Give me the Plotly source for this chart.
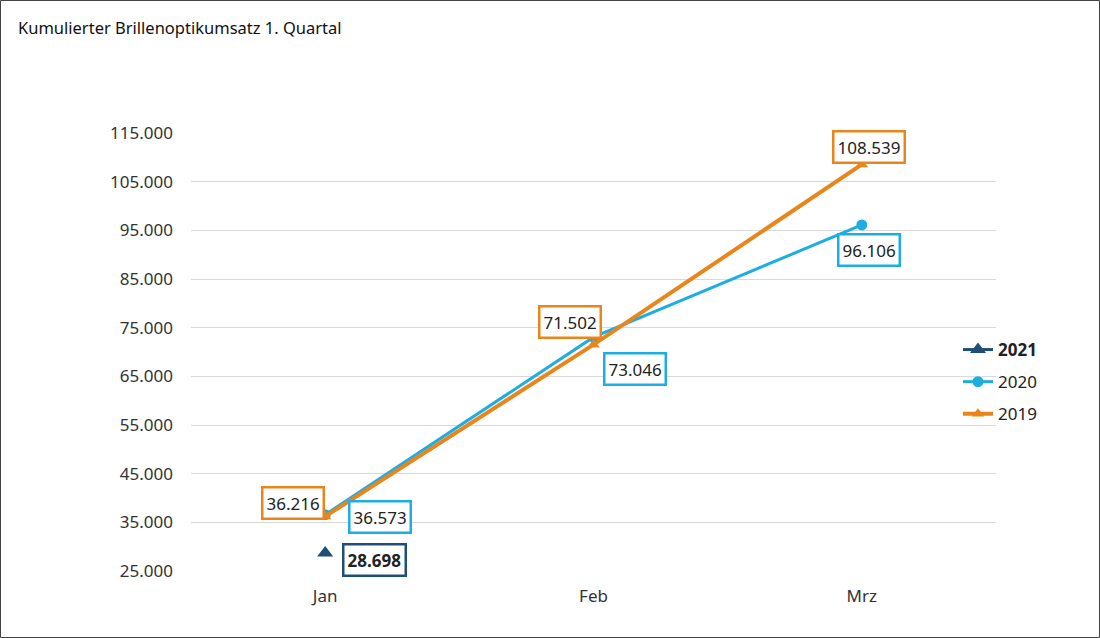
import plotly.graph_objects as go

months = ["Jan", "Feb", "Mrz"]
s2021 = [28698]
s2020 = [36573, 73046, 96106]
s2019 = [36216, 71502, 108539]
label2021 = ["28.698"]
label2020 = ["36.573", "73.046", "96.106"]
label2019 = ["36.216", "71.502", "108.539"]
tick_vals = [25000, 35000, 45000, 55000, 65000, 75000, 85000, 95000, 105000, 115000]
tick_text = ["25.000", "35.000", "45.000", "55.000", "65.000", "75.000", "85.000", "95.000", "105.000", "115.000"]

C2021 = "#1F4E79"
C2020 = "#1DADE2"
C2019 = "#E8861C"
FONT = "Noto Sans"

fig = go.Figure()
fig.add_trace(go.Scatter(x=months[:1], y=s2021, name="<b>2021</b>", mode="lines+markers",
                         legendgroup="a",
                         line=dict(color=C2021, width=3),
                         marker=dict(symbol="triangle-up", size=14, color=C2021)))
fig.add_trace(go.Scatter(x=months, y=s2020, name="2020", mode="lines+markers",
                         legendgroup="b",
                         line=dict(color=C2020, width=3),
                         marker=dict(symbol="circle", size=11, color=C2020)))
fig.add_trace(go.Scatter(x=months, y=s2019, name="2019", mode="lines+markers",
                         legendgroup="c",
                         line=dict(color=C2019, width=4),
                         marker=dict(symbol="triangle-up", size=11, color=C2019)))

def box(x, y, text, color, xs, ys, bold=False):
    fig.add_annotation(x=x, y=y, xref="x", yref="y", showarrow=False,
                       text=f"<b>{text}</b>" if bold else text,
                       xshift=xs, yshift=ys,
                       font=dict(family=FONT, size=17, color="#222222"),
                       bordercolor=color, borderwidth=2.5, borderpad=3,
                       bgcolor="white")

shifts2019 = [(-32, 13), (-24, 23), (7, 17)]
shifts2020 = [(55, -2), (41, -32), (7, -25)]
for i, m in enumerate(months):
    box(m, s2019[i], label2019[i], C2019, *shifts2019[i])
    box(m, s2020[i], label2020[i], C2020, *shifts2020[i])
box(months[0], s2021[0], label2021[0], C2021, 49, -7, bold=True)

W, H = 1100, 638
L, R, T, B = 191, 104, 133, 67
pw, ph = W - L - R, H - T - B
fig.add_shape(type="rect", xref="paper", yref="paper",
              x0=(0.5 - L) / pw, x1=(W - 0.5 - L) / pw,
              y0=(T + ph - (H - 0.5)) / ph, y1=(T + ph - 0.5) / ph,
              line=dict(color="#444444", width=1), fillcolor="rgba(0,0,0,0)", layer="above")

fig.update_layout(
    width=W, height=H,
    margin=dict(l=L, r=R, t=T, b=B),
    paper_bgcolor="white", plot_bgcolor="white",
    font=dict(family=FONT, size=17, color="#333333"),
    title=dict(text="Kumulierter Brillenoptikumsatz 1. Quartal", x=18 / W, xanchor="left",
               y=1 - 28 / H, yanchor="middle", font=dict(family=FONT, size=16.5, color="#111111")),
    showlegend=True,
    legend=dict(x=(958 - L) / pw, xanchor="left", y=(T + ph - 382) / ph, yanchor="middle",
                bgcolor="rgba(0,0,0,0)", font=dict(family=FONT, size=17, color="#222222"),
                tracegroupgap=7, itemwidth=30),
    xaxis=dict(type="category", showgrid=False, showline=False, zeroline=False,
               ticks="", tickfont=dict(size=17, color="#333333"), range=[-0.5, 2.5],
               ticklabelstandoff=13),
    yaxis=dict(range=[25000, 115000], tickvals=tick_vals, ticktext=tick_text,
               showgrid=True, gridcolor="#D9D9D9", gridwidth=1, zeroline=False,
               showline=False, ticks="", ticklabelstandoff=17,
               tickfont=dict(size=17, color="#333333")),
)
fig.write_html("out.html", config={"displayModeBar": False},
               post_script="document.body.style.margin='0';document.body.style.overflow='hidden';")
